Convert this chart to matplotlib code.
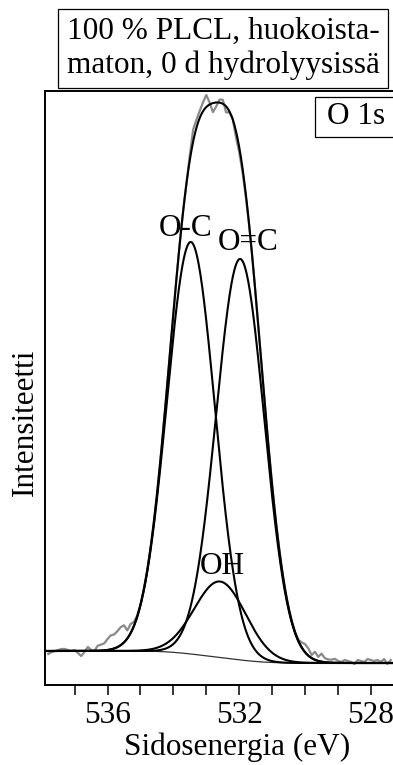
import numpy as np
import matplotlib
matplotlib.use("Agg")
import matplotlib.pyplot as plt
from matplotlib.patches import Rectangle

# O 1s fit components: centre (eV), height and gaussian sigma (eV)
comp_names = ["O-C", "O=C", "OH"]
comp_center = [533.47, 531.97, 532.58]
comp_height = [412, 401, 76]
comp_sigma = [0.73, 0.73, 0.78]

# Shirley background end levels (high / low binding energy side)
bg_left = 34
bg_right = 22

# measured spectrum, given as deviation from the fitted envelope
meas_start = 537.8
meas_step = 0.1
meas_resid = [-3, -1, 0, 1, 2, 2, 1, 0, 1, -2,
              -5, -1, 4, 1, 0, 5, 6, 7, 11, 14,
              14, 16, 18, 17, 8, 9, 4, 1, 0,
              0, 0, 0, 0, 0, 0, 0, 0, 0, 0, 0, 0, 0, 0,
              5, 12, 8, 7, 9, 12, 2, -9, -4, 3, 4, -6, -1, 1, -6, -5, -4, -3, -1, 0,
              0, 0, 0, 0, 0, 0, 0, 0, 0, 0, 0, 0, 0,
              1, 5, 8, 7, 3, 8, 4, 8, 4, 3, 3, 4, 2, 1, 3, 2, 1, -1, 3, 2,
              1, 4, 3, 2, 3, 1, 4, -1, 3]

label_pos = {"O-C": (533.64, 457), "O=C": (531.73, 443), "OH": (532.52, 118)}

xticks_major = [536, 532, 528]
title_text = "100 % PLCL, huokoista-\nmaton, 0 d hydrolyysissä"

plt.rcParams['font.family'] = ['Liberation Serif', 'DejaVu Serif']
plt.rcParams['font.size'] = 22.5


def components(e):
    return [h * np.exp(-0.5 * ((e - c) / s) ** 2)
            for c, h, s in zip(comp_center, comp_height, comp_sigma)]


def shirley(e, peaks):
    # e runs from high to low binding energy
    total = np.sum(peaks, axis=0)
    below = np.cumsum(total[::-1])[::-1]
    return bg_right + (bg_left - bg_right) * below / below[0]


energy = np.linspace(537.9, 527.3, 1200)
peaks = components(energy)
bg = shirley(energy, peaks)
envelope = bg + np.sum(peaks, axis=0)

meas_e = meas_start - meas_step * np.arange(len(meas_resid))
meas = np.interp(meas_e[::-1], energy[::-1], envelope[::-1])[::-1] + np.array(meas_resid)

fig = plt.figure(figsize=(3.93, 7.65), dpi=100)
ax = fig.add_axes([45 / 393, 80 / 765, 1 - 45 / 393, 594 / 765])

ax.plot(meas_e, meas, color='#8a8a8a', lw=1.6, zorder=1)
for p in peaks:
    ax.plot(energy, bg + p, color='black', lw=1.5, zorder=3)
ax.plot(energy, bg, color='#333333', lw=0.9, zorder=2)
ax.plot(energy, envelope, color='black', lw=1.5, zorder=4)

for name in comp_names:
    x, y = label_pos[name]
    ax.text(x, y, name, ha='center', va='center', zorder=5)

ax.set_xlim(537.9, 527.33)
ax.set_ylim(0, 594)
ax.set_xticks(xticks_major)
ax.set_xticks(np.arange(528, 538, 1), minor=True)
ax.tick_params(axis='x', which='both', direction='out', length=7.5, width=1.1, pad=4)
ax.set_yticks([])
for side in ['left', 'bottom', 'top']:
    ax.spines[side].set_linewidth(1.4)
ax.spines['right'].set_visible(False)

ax.set_xlabel("Sidosenergia (eV)", va='center')
ax.xaxis.set_label_coords(0.553, -0.104)
ax.set_ylabel("Intensiteetti", va='center')
ax.yaxis.set_label_coords(-0.0575, 0.443)

# panel tag box runs off the right edge of the figure
fig.add_artist(Rectangle((315 / 393, 1 - 137 / 765), 90 / 393, 40 / 765,
                         transform=fig.transFigure, fc='white', ec='black', lw=0.9))
fig.text(327 / 393, 1 - 117 / 765, "O 1s", ha='left', va='center')

fig.text(223 / 393, 1 - 48.5 / 765, title_text, ha='center', va='center',
         multialignment='center', linespacing=1.2,
         bbox=dict(boxstyle='square,pad=0.27', fc='white', ec='black', lw=0.9))

fig.savefig("out.png", dpi=100)
